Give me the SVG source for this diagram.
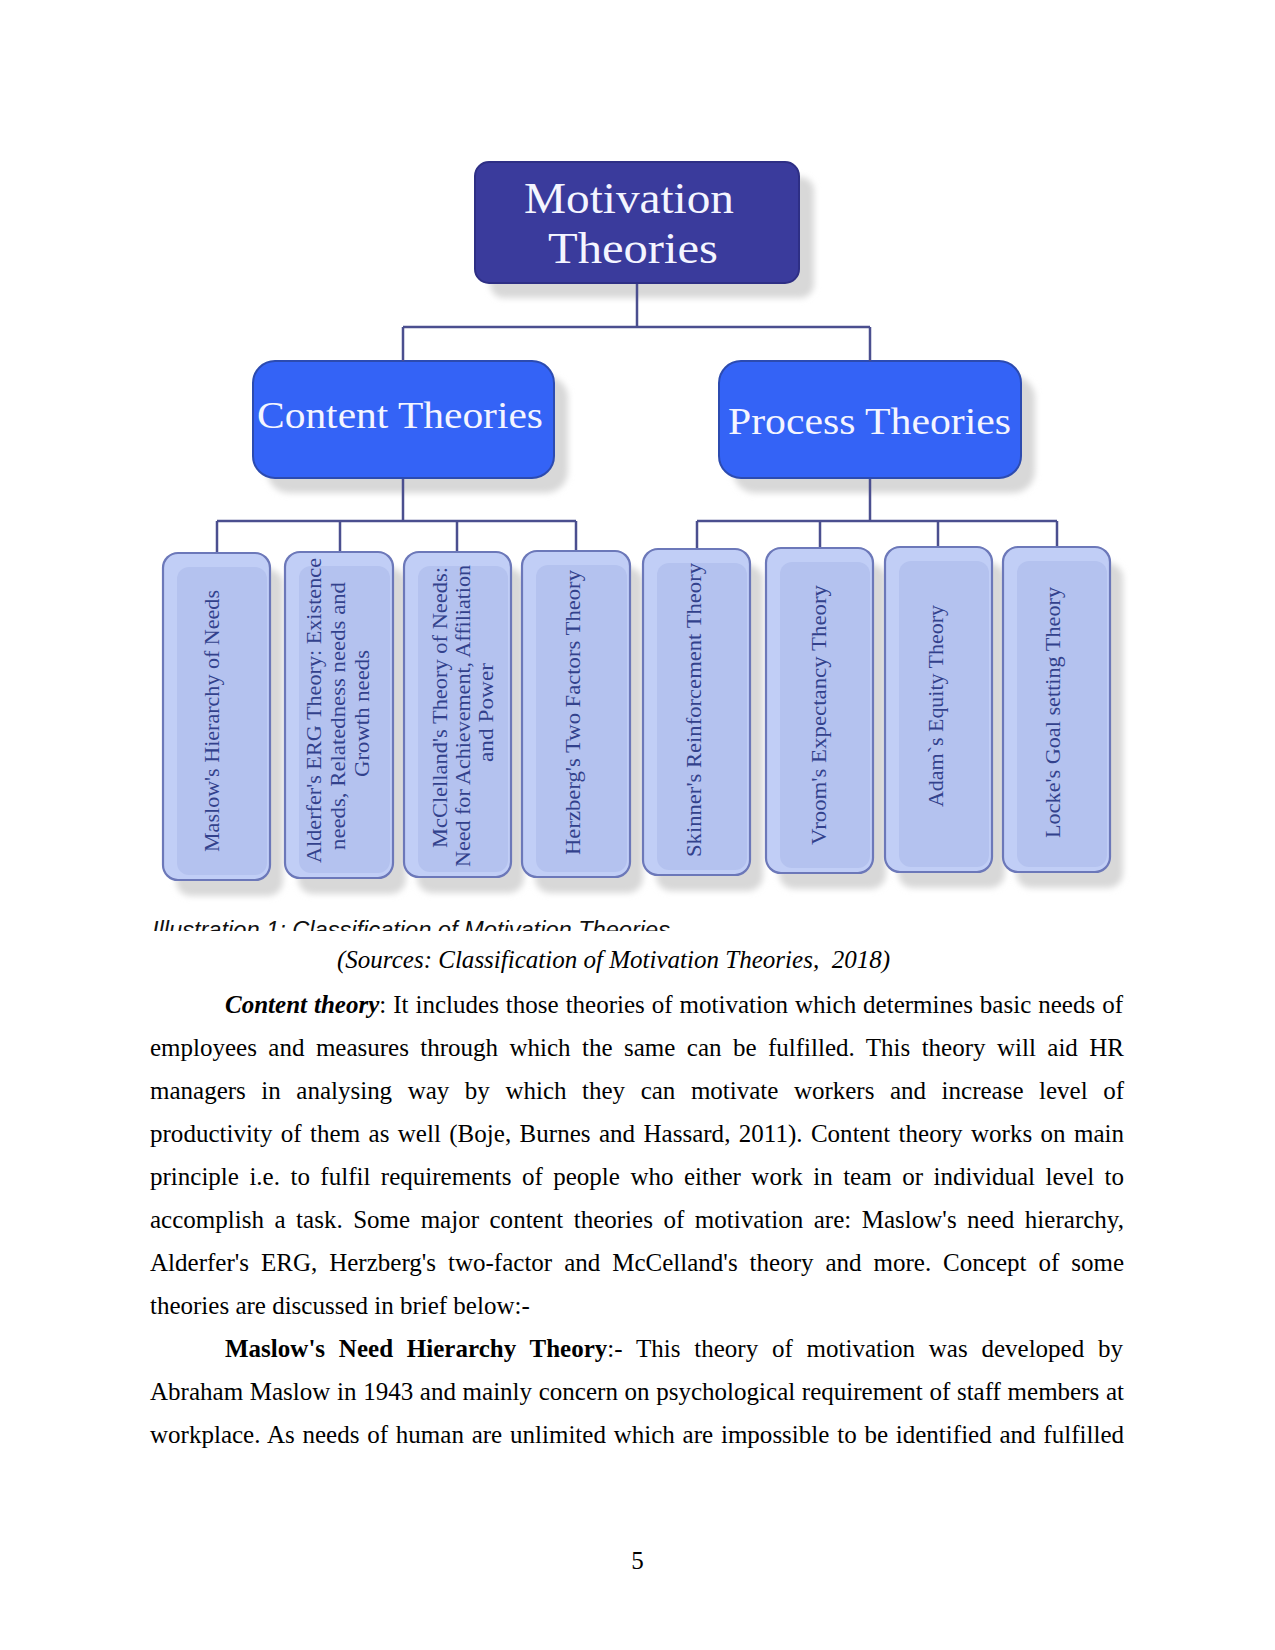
<svg xmlns="http://www.w3.org/2000/svg" width="1275" height="1650" viewBox="0 0 1275 1650">
<style>
.shadow{fill:#d8d8d8;filter:url(#blur)}
.root{fill:#3a3b9c;stroke:#2e2f85;stroke-width:2}
.mid{fill:#3463f6;stroke:#2c4bb0;stroke-width:2}
.leaf{fill:#c1cef6;stroke:#6c78b9;stroke-width:2.2}
.leafin{fill:#b4c2ef}
.ht{font-family:"Liberation Serif","DejaVu Serif",serif;fill:#f4f5ff}
.lt{font-family:"Liberation Serif",serif;font-size:22px;fill:#32418c;text-anchor:middle}
.conn{fill:none;stroke:#4b4f8f;stroke-width:2.5}
.body{font-family:"Liberation Serif",serif;font-size:25px;fill:#000}
</style>
<defs>
<filter id="blur" x="-10%" y="-10%" width="120%" height="120%"><feGaussianBlur stdDeviation="3"/></filter>
<clipPath id="capclip"><rect x="100" y="900" width="700" height="31"/></clipPath>
</defs>
<rect width="1275" height="1650" fill="#fff"/>

<g id="node-motivation">
<rect class="shadow" x="490" y="177" width="324" height="121" rx="14"/>
<rect class="root" x="475" y="162" width="324" height="121" rx="14"/>
<text class="ht" x="629" y="213" font-size="44" text-anchor="middle" textLength="210" lengthAdjust="spacingAndGlyphs">Motivation</text>
<text class="ht" x="633" y="263" font-size="44" text-anchor="middle" textLength="170" lengthAdjust="spacingAndGlyphs">Theories</text>
</g>

<g id="node-content">
<rect class="shadow" x="267" y="376" width="301" height="117" rx="22"/>
<rect class="mid" x="253" y="361" width="301" height="117" rx="22"/>
<text class="ht" x="400" y="428" font-size="38" text-anchor="middle" textLength="286" lengthAdjust="spacingAndGlyphs">Content Theories</text>
</g>

<g id="node-process">
<rect class="shadow" x="733" y="376" width="302" height="117" rx="22"/>
<rect class="mid" x="719" y="361" width="302" height="117" rx="22"/>
<text class="ht" x="869.5" y="434" font-size="38" text-anchor="middle" textLength="283" lengthAdjust="spacingAndGlyphs">Process Theories</text>
</g>

<g id="node-maslow">
<rect class="shadow" x="176" y="569" width="107" height="327" rx="15"/>
<rect class="leaf" x="163" y="553" width="107" height="327" rx="15"/>
<rect class="leafin" x="177" y="567" width="90" height="308" rx="12"/>
<text class="lt" transform="translate(219 721) rotate(-90)" textLength="262" lengthAdjust="spacingAndGlyphs">Maslow's Hierarchy of Needs</text>
</g>

<g id="node-alderfer">
<rect class="shadow" x="298" y="568" width="108" height="326" rx="15"/>
<rect class="leaf" x="285" y="552" width="108" height="326" rx="15"/>
<rect class="leafin" x="299" y="566" width="91" height="307" rx="12"/>
<text class="lt" transform="translate(321 710.5) rotate(-90)" textLength="305" lengthAdjust="spacingAndGlyphs">Alderfer's  ERG Theory: Existence</text>
<text class="lt" transform="translate(345 716) rotate(-90)" textLength="268" lengthAdjust="spacingAndGlyphs">needs, Relatedness needs and</text>
<text class="lt" transform="translate(369 713.5) rotate(-90)" textLength="127" lengthAdjust="spacingAndGlyphs">Growth needs</text>
</g>

<g id="node-mcclelland">
<rect class="shadow" x="417" y="568" width="107" height="325" rx="15"/>
<rect class="leaf" x="404" y="552" width="107" height="325" rx="15"/>
<rect class="leafin" x="418" y="566" width="90" height="306" rx="12"/>
<text class="lt" transform="translate(447 707.5) rotate(-90)" textLength="281" lengthAdjust="spacingAndGlyphs">McClelland's Theory of Needs:</text>
<text class="lt" transform="translate(470 716) rotate(-90)" textLength="302" lengthAdjust="spacingAndGlyphs">Need for Achievement, Affiliation</text>
<text class="lt" transform="translate(493 712.5) rotate(-90)" textLength="99" lengthAdjust="spacingAndGlyphs">and Power</text>
</g>

<g id="node-herzberg">
<rect class="shadow" x="535" y="567" width="108" height="326" rx="15"/>
<rect class="leaf" x="522" y="551" width="108" height="326" rx="15"/>
<rect class="leafin" x="536" y="565" width="91" height="307" rx="12"/>
<text class="lt" transform="translate(580 712.5) rotate(-90)" textLength="285" lengthAdjust="spacingAndGlyphs">Herzberg's Two Factors Theory</text>
</g>

<g id="node-skinner">
<rect class="shadow" x="656" y="565" width="107" height="326" rx="15"/>
<rect class="leaf" x="643" y="549" width="107" height="326" rx="15"/>
<rect class="leafin" x="657" y="563" width="90" height="307" rx="12"/>
<text class="lt" transform="translate(701 710) rotate(-90)" textLength="294" lengthAdjust="spacingAndGlyphs">Skinner's Reinforcement Theory</text>
</g>

<g id="node-vroom">
<rect class="shadow" x="779" y="564" width="107" height="325" rx="15"/>
<rect class="leaf" x="766" y="548" width="107" height="325" rx="15"/>
<rect class="leafin" x="780" y="562" width="90" height="306" rx="12"/>
<text class="lt" transform="translate(826 715) rotate(-90)" textLength="260" lengthAdjust="spacingAndGlyphs">Vroom's  Expectancy Theory</text>
</g>

<g id="node-adam">
<rect class="shadow" x="898" y="563" width="107" height="325" rx="15"/>
<rect class="leaf" x="885" y="547" width="107" height="325" rx="15"/>
<rect class="leafin" x="899" y="561" width="90" height="306" rx="12"/>
<text class="lt" transform="translate(943 706) rotate(-90)" textLength="202" lengthAdjust="spacingAndGlyphs">Adam`s Equity Theory</text>
</g>

<g id="node-locke">
<rect class="shadow" x="1016" y="563" width="107" height="325" rx="15"/>
<rect class="leaf" x="1003" y="547" width="107" height="325" rx="15"/>
<rect class="leafin" x="1017" y="561" width="90" height="306" rx="12"/>
<text class="lt" transform="translate(1060 712.5) rotate(-90)" textLength="251" lengthAdjust="spacingAndGlyphs">Locke's Goal setting Theory</text>
</g>

<g id="connectors">
<path class="conn" d="M637 284V327M403 327H870M403 327V361M870 327V361"/>
<path class="conn" d="M403 479V521M217 521H576M217 521V552M340 521V551M457 521V551M576 521V550"/>
<path class="conn" d="M870 479V521M697 521H1057M697 521V548M820 521V547M938 521V546M1057 521V546"/>
</g>

<g id="page-text">
<text x="152" y="938" clip-path="url(#capclip)" font-family="'Liberation Sans',sans-serif" font-style="italic" font-size="24" fill="#111" textLength="518" lengthAdjust="spacingAndGlyphs">Illustration 1: Classification of Motivation Theories</text>
<text class="body" x="337" y="968" font-style="italic" textLength="553" lengthAdjust="spacing" xml:space="preserve">(Sources: Classification of Motivation Theories,  2018)</text>
<text class="body" x="225" y="1013" textLength="898" lengthAdjust="spacing" word-spacing="0.7"><tspan font-weight="bold" font-style="italic">Content theory</tspan>: It includes those theories of motivation which determines basic needs of</text>
<text class="body" x="150" y="1056" textLength="974" lengthAdjust="spacing" word-spacing="5.2">employees and measures through which the same can be fulfilled. This theory will aid HR</text>
<text class="body" x="150" y="1099" textLength="974" lengthAdjust="spacing" word-spacing="9.3">managers in analysing way by which they can motivate workers and increase level of</text>
<text class="body" x="150" y="1142" textLength="974" lengthAdjust="spacing" word-spacing="2.1">productivity of them as well (Boje, Burnes and Hassard, 2011). Content theory works on main</text>
<text class="body" x="150" y="1185" textLength="974" lengthAdjust="spacing" word-spacing="4.2">principle i.e. to fulfil requirements of people who either work in team or individual level to</text>
<text class="body" x="150" y="1228" textLength="974" lengthAdjust="spacing" word-spacing="4.2">accomplish a task. Some major content theories of motivation are: Maslow's need hierarchy,</text>
<text class="body" x="150" y="1271" textLength="974" lengthAdjust="spacing" word-spacing="5.7">Alderfer's ERG, Herzberg's two-factor and McCelland's theory and more. Concept of some</text>
<text class="body" x="150" y="1314">theories are discussed in brief below:-</text>
<text class="body" x="225" y="1357" textLength="898" lengthAdjust="spacing" word-spacing="7.5"><tspan font-weight="bold">Maslow's Need Hierarchy Theory</tspan>:- This theory of motivation was developed by</text>
<text class="body" x="150" y="1400" textLength="974" lengthAdjust="spacing" word-spacing="0.4">Abraham Maslow in 1943 and mainly concern on psychological requirement of staff members at</text>
<text class="body" x="150" y="1443" textLength="974" lengthAdjust="spacing" word-spacing="1.5">workplace. As needs of human are unlimited which are impossible to be identified and fulfilled</text>
<text class="body" x="637.5" y="1569" text-anchor="middle">5</text>
</g>
</svg>
